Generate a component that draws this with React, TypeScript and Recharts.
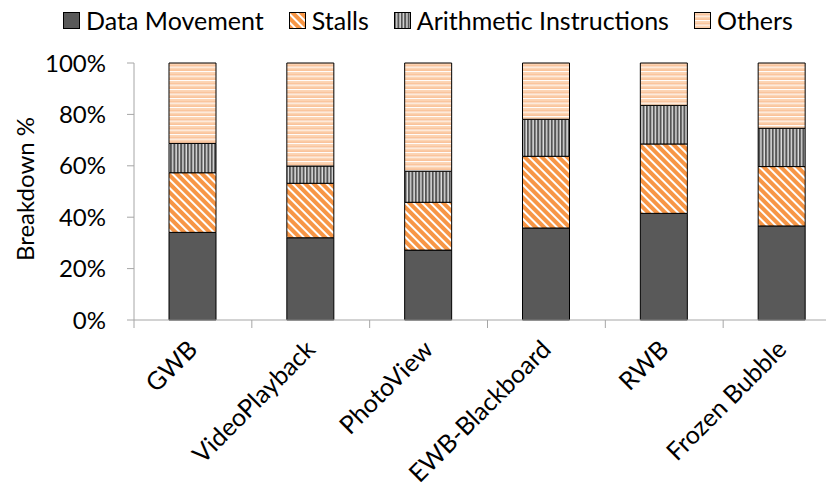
import React from 'react';
import { BarChart, Bar, XAxis, YAxis, Legend, Label } from 'recharts';

// share of execution per workload, in percent
const apps = ['GWB', 'VideoPlayback', 'PhotoView', 'EWB-Blackboard', 'RWB', 'Frozen Bubble'];
const dataMovement = [34.1, 32.0, 27.2, 35.8, 41.5, 36.6];
const stalls = [23.2, 21.2, 18.6, 27.9, 27.0, 23.1];
const arithmetic = [11.4, 6.7, 12.1, 14.4, 15.0, 14.9];
const others = [31.3, 40.1, 42.1, 21.9, 16.5, 25.4];
const yTicks = [0, 20, 40, 60, 80, 100];

const series = [
  { key: 'dataMovement', name: 'Data Movement', fill: '#595959' },
  { key: 'stalls', name: 'Stalls', fill: 'url(#pat-stalls)' },
  { key: 'arithmetic', name: 'Arithmetic Instructions', fill: 'url(#pat-arith)' },
  { key: 'others', name: 'Others', fill: 'url(#pat-others)' },
];

const data = apps.map((name, i) => ({
  name,
  dataMovement: dataMovement[i],
  stalls: stalls[i],
  arithmetic: arithmetic[i],
  others: others[i],
}));

const FONT = 'Lato, "Open Sans", sans-serif';
const CHART_W = 850;
const CHART_H = 497;
const MARGIN = { top: 23, right: 9, left: 0, bottom: 0 };
const Y_AXIS_W = 134;
const BAND = (CHART_W - MARGIN.right - Y_AXIS_W) / apps.length;
const AXIS_GRAY = '#a6a6a6';

const Patterns = () => (
  <svg width={0} height={0} style={{ position: 'absolute' }}>
    <defs>
      <pattern id="pat-stalls" width={6} height={6} patternUnits="userSpaceOnUse" patternTransform="rotate(-45)">
        <rect width={6} height={6} fill="#ffffff" />
        <rect width={4} height={6} fill="#f79646" />
      </pattern>
      <pattern id="pat-arith" width={3.4} height={4} patternUnits="userSpaceOnUse">
        <rect width={3.4} height={4} fill="#e0e0e0" />
        <rect width={2} height={4} fill="#555555" />
      </pattern>
      <pattern id="pat-others" width={4} height={4.5} patternUnits="userSpaceOnUse">
        <rect width={4} height={4.5} fill="#fcd5b5" />
        <rect y={2.4} width={4} height={1} fill="#f7a870" />
        <rect y={3.4} width={4} height={1.1} fill="#ffffff" />
      </pattern>
    </defs>
  </svg>
);

const renderLegend = () => (
  <div
    style={{
      display: 'flex',
      justifyContent: 'center',
      alignItems: 'center',
      gap: 25,
      height: 40,
      fontFamily: FONT,
      fontSize: 25,
      color: '#000',
      paddingLeft: 22,
    }}
  >
    {series.map((s) => (
      <span key={s.key} style={{ display: 'inline-flex', alignItems: 'center' }}>
        <svg width={17} height={17} style={{ marginRight: 6 }}>
          <rect x={0.5} y={0.5} width={16} height={16} fill={s.fill} stroke="#000" strokeWidth={1} />
        </svg>
        <span>{s.name}</span>
      </span>
    ))}
  </div>
);

const AppTick = (props: any) => {
  const { x, y, payload, index } = props;
  const half = BAND / 2;
  const tx = x + 6;
  const ty = y + 31;
  return (
    <g>
      <line x1={x - half} y1={y} x2={x - half} y2={y + 8} stroke={AXIS_GRAY} />
      {index === apps.length - 1 && (
        <line x1={x + half} y1={y} x2={x + half} y2={y + 8} stroke={AXIS_GRAY} />
      )}
      <text
        x={tx}
        y={ty}
        textAnchor="end"
        transform={`rotate(-45, ${tx}, ${ty})`}
        fontFamily={FONT}
        fontSize={25}
        fill="#000"
      >
        {payload.value}
      </text>
    </g>
  );
};

export default function App() {
  return (
    <div
      style={{
        position: 'relative',
        width: 834,
        height: 497,
        margin: '-8px 0 -8px -8px',
        overflow: 'hidden',
        background: '#fff',
      }}
    >
      <Patterns />
      <BarChart width={CHART_W} height={CHART_H} data={data} margin={MARGIN} barSize={47}>
        <Legend verticalAlign="top" content={renderLegend} wrapperStyle={{ top: 0, left: 0, width: 834 }} />
        <XAxis
          dataKey="name"
          height={177}
          interval={0}
          tickLine={false}
          tickSize={0}
          tickMargin={0}
          stroke={AXIS_GRAY}
          tick={<AppTick />}
        />
        <YAxis
          width={Y_AXIS_W}
          domain={[0, 100]}
          ticks={yTicks}
          tickFormatter={(v: number) => `${v}%`}
          tickSize={7}
          tickMargin={21}
          stroke={AXIS_GRAY}
          tick={{ fill: '#000', fontSize: 24, fontFamily: FONT }}
        >
          <Label
            content={() => (
              <text
                x={24}
                y={189}
                textAnchor="middle"
                dominantBaseline="central"
                transform="rotate(-90, 24, 189)"
                fontFamily={FONT}
                fontSize={24}
                fill="#000"
              >
                Breakdown %
              </text>
            )}
          />
        </YAxis>
        {series.map((s) => (
          <Bar
            key={s.key}
            dataKey={s.key}
            name={s.name}
            stackId="total"
            fill={s.fill}
            stroke="#000"
            strokeWidth={1}
            isAnimationActive={false}
          />
        ))}
      </BarChart>
    </div>
  );
}
